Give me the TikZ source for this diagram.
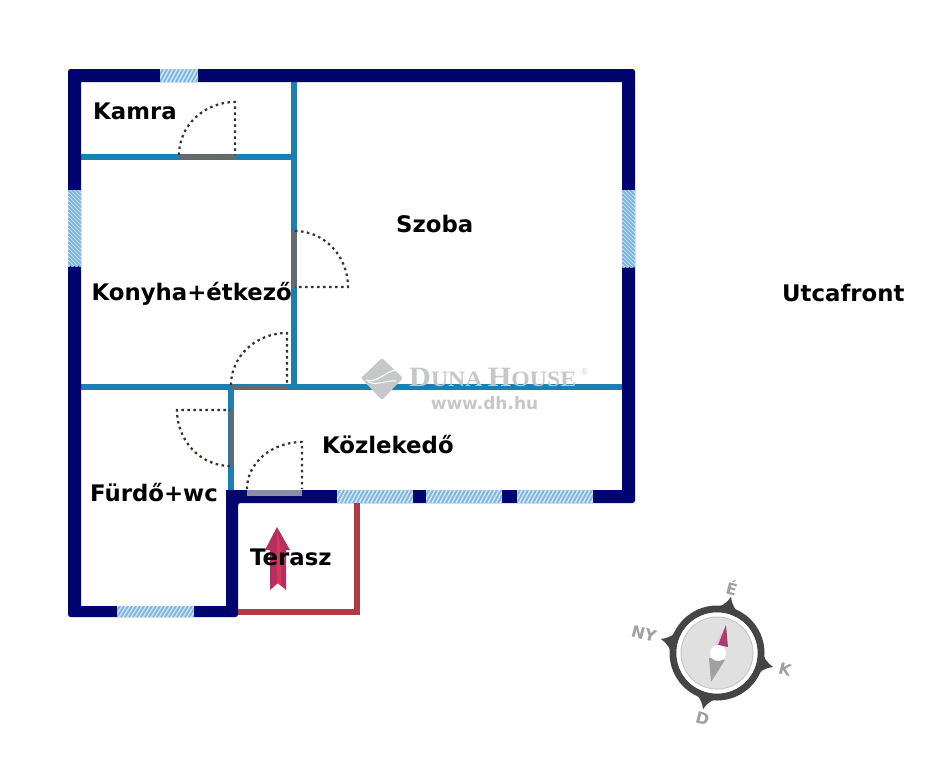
\documentclass[tikz,border=0pt]{standalone}
\usepackage{fontspec}
\setmainfont{DejaVu Sans}
\newfontfamily\wmserif{Liberation Serif}
\definecolor{wallnavy}{HTML}{00046F}
\definecolor{wallteal}{HTML}{1A80B2}
\definecolor{doorgray}{HTML}{666A6C}
\definecolor{dotbrown}{HTML}{3A3028}
\definecolor{terred}{HTML}{B23A42}
\definecolor{winbg}{HTML}{D2E6F6}
\definecolor{winline}{HTML}{7FB6DE}
\definecolor{compdark}{HTML}{454545}
\definecolor{compgray}{HTML}{A0A0A0}
\definecolor{wmgray}{HTML}{C6C8C8}
\definecolor{arrowdark}{HTML}{B5305A}
\definecolor{arrowlight}{HTML}{D8365E}
\newcommand{\hwin}[4]{\begin{scope}
  \clip (#1,#2) rectangle (#3,#4);
  \fill[winbg] (#1,#2) rectangle (#3,#4);
  \foreach \s in {-16,-12,...,80}{\draw[winline,line width=1.8pt] ({#1+\s},#4) -- ({#1+\s+7},#2);}
  \end{scope}}
\newcommand{\vwin}[4]{\begin{scope}
  \clip (#1,#2) rectangle (#3,#4);
  \fill[winbg] (#1,#2) rectangle (#3,#4);
  \foreach \s in {-16,-12,...,84}{\draw[winline,line width=1.8pt] (#1,{#2+\s}) -- (#3,{#2+\s+13});}
  \end{scope}}
\tikzset{
  inner/.style={fill=wallteal},
  leaf/.style={draw=doorgray,line width=5pt},
  swing/.style={draw=dotbrown,line width=2.2pt,dash pattern=on 2.5pt off 3.5pt},
  room/.style={font=\fontsize{22.8}{24}\selectfont\bfseries,inner sep=0pt,anchor=base west,text=black},
  dir/.style={font=\fontsize{16}{17}\selectfont\bfseries,inner sep=0pt,text=compgray}
}
\begin{document}
\begin{tikzpicture}[x=1pt,y=-1pt]
\useasboundingbox[fill=white] (0,0) rectangle (947,768);
% terrace
\fill[terred] (354,503) rectangle (360,615);
\fill[terred] (238,609) rectangle (360,615);
% inner walls
\fill[inner] (81,153.5) rectangle (296,159.5);
\fill[inner] (291,82) rectangle (297,390);
\fill[inner] (81,384) rectangle (622,390);
\fill[inner] (228,390) rectangle (234,490);
% outer walls
\fill[wallnavy,even odd rule,rounded corners=2.5pt]
  (68,69) -- (635,69) -- (635,503) -- (238,503) -- (238,617) -- (68,617) -- cycle
  [sharp corners] (81,82) -- (622,82) -- (622,490) -- (226,490) -- (226,606) -- (81,606) -- cycle;
% windows
\hwin{160}{69}{198}{82}
\vwin{68}{190}{81}{266}
\vwin{622}{190}{635}{267}
\hwin{337}{490}{413}{503}
\hwin{426}{490}{502}{503}
\hwin{517}{490}{593}{503}
\hwin{117}{606}{194}{617}
% doors
\draw[leaf] (179,156.5) -- (235,156.5);
\draw[swing] (179,155) arc[start angle=180,end angle=90,x radius=56,y radius=-53] -- (235,155);
\draw[leaf] (294,231) -- (294,287);
\draw[swing] (295,231) arc[start angle=90,end angle=0,x radius=53,y radius=-56] -- (295,287);
\draw[leaf] (231,387) -- (287,387);
\draw[swing] (231,385) arc[start angle=180,end angle=90,x radius=56,y radius=-52] -- (287,385);
\draw[leaf] (231,410) -- (231,466);
\draw[swing] (230,466) arc[start angle=-90,end angle=-180,x radius=53,y radius=-56] -- (230,410);
\draw[draw=doorgray!60!wallnavy!60!white,line width=6pt] (247,493) -- (302,493);
\draw[swing] (247,489) arc[start angle=180,end angle=90,x radius=55,y radius=-47] -- (302,489);
% entrance arrow
\fill[arrowdark] (277,527) -- (290,550) -- (286,550) -- (286,590) -- (278,583) -- (270,590) -- (270,550) -- (265,550) -- cycle;
\fill[arrowlight] (277,527) -- (281,550) -- (281,586) -- (278,583) -- (277,584) -- cycle;
% watermark
\fill[wmgray,rounded corners=2pt] (382,358) -- (403,378) -- (382,400) -- (361,378) -- cycle;
\draw[white,line width=1.2pt] (366,380) .. controls (376,384) and (384,372) .. (398,369);
\draw[white,line width=1pt] (368,382) .. controls (378,386) and (386,380) .. (396,381);
\node[inner sep=0pt,anchor=base west,text=wmgray,font=\wmserif\bfseries,xscale=1.08] (wm) at (409,386)
  {{\fontsize{28}{29}\selectfont D}{\fontsize{22}{23}\selectfont UNA}\hspace{5pt}{\fontsize{28}{29}\selectfont H}{\fontsize{22}{23}\selectfont OUSE}};
\node[inner sep=0pt,anchor=base west,text=wmgray,font=\wmserif\fontsize{9}{9}\selectfont] (wmr) at (581,374) {®};
\node[inner sep=0pt,text=wmgray,font=\fontsize{17}{18}\selectfont\bfseries] (wmurl) at (484.5,403) {www.dh.hu};
% labels
\node[room] (kamra) at (93,119.5) {Kamra};
\node[room] (szoba) at (396,232) {Szoba};
\node[room] (konyha) at (91.5,300) {Konyha+étkező};
\node[room] (kozl) at (322,453) {Közlekedő};
\node[room] (furdo) at (90,501) {Fürdő+wc};
\node[room] (terasz) at (250,565) {Terasz};
\node[room] (utca) at (782,301) {Utcafront};
% compass
\begin{scope}[shift={(717,653)}]
\foreach \a in {-14,76,166,256}{
  \fill[compdark,rotate=\a] (-14,-43) .. controls (-7,-46) and (-3,-50) .. (0,-58) .. controls (3,-50) and (7,-46) .. (14,-43) -- cycle;
}
\draw[compdark,line width=7pt] (0,0) circle (44);
\fill[white] (0,0) circle (40.5);
\fill[black!12,draw=black!22,line width=1pt] (0,0) circle (36);
\end{scope}
\fill[magenta!25!white] (726,625) -- (713,647) -- (720,645) -- cycle;
\fill[magenta!60!black!90!red] (726,625) -- (718,645) -- (728,647) -- cycle;
\fill[compgray] (711,682) -- (709,658) -- (725,660) -- cycle;
\fill[white] (718,653) circle (8);
\node[dir,rotate=-15] (e) at (732,588) {É};
\node[dir,rotate=-15] (k) at (785,669.5) {K};
\node[dir,rotate=-15] (d) at (702.5,719) {D};
\node[dir,rotate=-15] (ny) at (644,634) {NY};
\end{tikzpicture}
\end{document}
